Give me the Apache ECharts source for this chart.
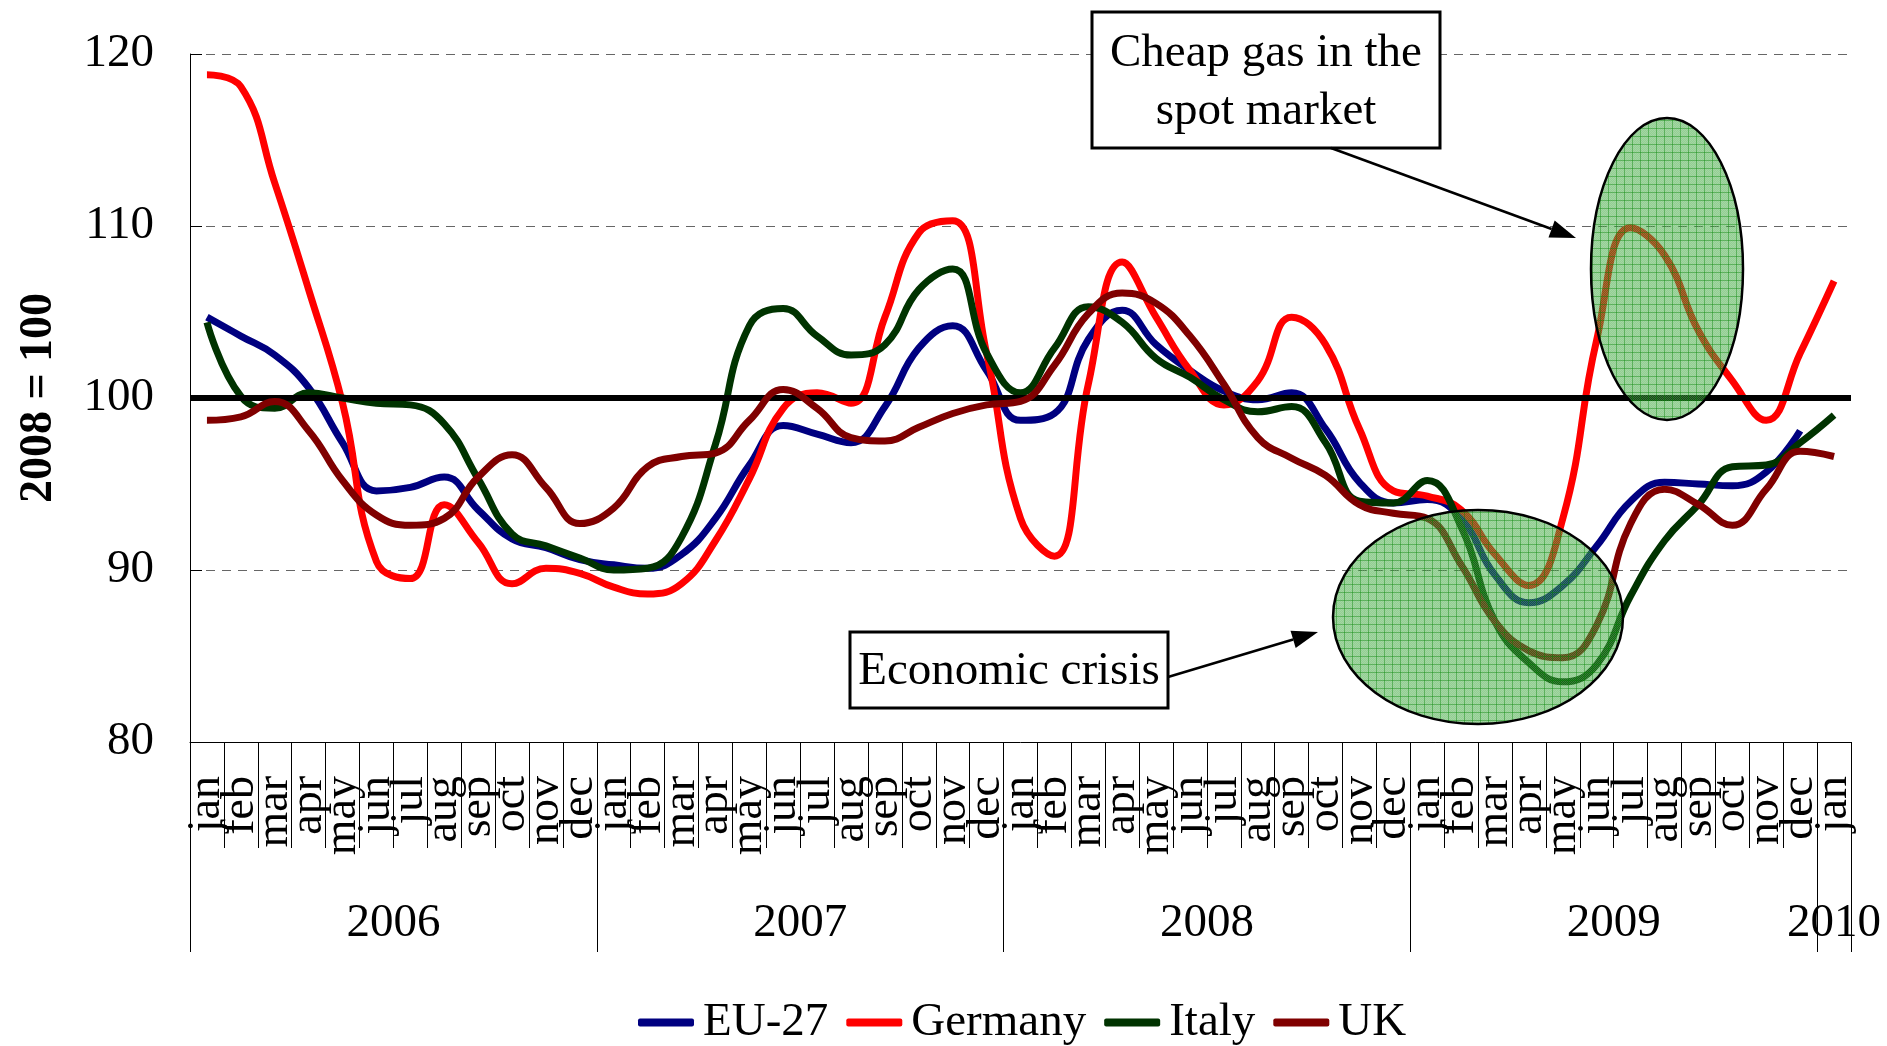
<!DOCTYPE html>
<html>
<head>
<meta charset="utf-8">
<script src="https://cdn.jsdelivr.net/npm/echarts@6/dist/echarts.min.js"></script>
<style>
html,body{margin:0;padding:0;background:#fff;}
#chart{width:1887px;height:1046px;}
</style>
</head>
<body>
<div id="chart"></div>
<script>
// ---- data ----
var monthNames = ['jan','feb','mar','apr','may','jun','jul','aug','sep','oct','nov','dec'];
var years = ['2006','2007','2008','2009','2010'];
var monthsPerYear = [12, 12, 12, 12, 1];

var eu27 = [104.7,103.6,102.5,100.6,97.4,94.6,94.8,95.4,93.5,91.8,91.3,90.6,
            90.3,90.1,90.9,93.0,96.1,98.4,97.9,97.4,99.5,102.9,104.2,101.6,
            98.7,99.1,103.4,105.1,103.1,101.6,100.4,99.9,100.3,98.2,95.1,93.9,
            94.1,93.0,89.7,88.1,89.1,91.4,94.0,95.1,95.0,94.9,95.7,98.1,
            null];
var germany = [118.8,118.1,112.5,106.3,99.7,90.5,89.5,93.8,91.6,89.2,90.1,89.8,
               89.0,88.6,89.2,91.7,95.3,99.4,100.3,99.7,104.7,109.6,110.3,102.6,
               93.0,90.8,100.8,107.9,104.7,101.6,99.6,101.0,104.7,103.1,98.2,94.6,
               94.3,93.5,90.9,89.1,93.0,103.4,109.9,108.3,103.9,101.0,98.7,102.6,
               106.8];
var italy = [104.4,100.1,99.4,100.3,100.0,99.7,99.6,98.5,95.3,92.1,91.4,90.7,
             90.0,90.1,91.9,97.3,104.2,105.2,103.6,102.5,103.1,106.3,107.5,102.6,
             100.3,102.9,105.3,104.4,102.3,101.2,99.9,99.2,99.5,97.4,94.0,93.9,
             95.2,92.5,87.0,84.6,83.5,84.5,88.5,91.7,93.8,96.0,96.1,97.4,
             99.0];
var uk = [98.7,98.9,99.8,98.1,95.2,93.2,92.6,93.0,95.4,96.7,94.8,92.7,
          93.6,96.0,96.6,96.8,98.7,100.5,99.4,97.7,97.5,98.3,99.1,99.6,
          99.8,101.9,104.9,106.1,105.5,103.6,100.8,97.7,96.5,95.5,93.8,93.3,
          93.0,90.3,87.0,85.3,84.9,86.8,92.7,94.7,93.8,92.6,94.7,96.9,
          96.6];
var seriesNames = ['EU-27','Germany','Italy','UK'];
var seriesColors = ['#000080','#FF0000','#003300','#800000'];
var baseline = 100;
var yTicks = [80, 90, 100, 110, 120];
var noteCheapGas = ['Cheap gas in the', 'spot market'];
var noteCrisis = 'Economic crisis';

// ---- build categories ----
var categories = [];
years.forEach(function (y, yi) {
  for (var m = 0; m < monthsPerYear[yi]; m++) categories.push(monthNames[m]);
});
var yearBounds = [0];
monthsPerYear.forEach(function (n) { yearBounds.push(yearBounds[yearBounds.length - 1] + n); });
var yearCenters = years.map(function (y, i) { return (yearBounds[i] + yearBounds[i + 1]) / 2; });

var FONT = '"Liberation Serif", "Times New Roman", serif';

// hatched pattern for ellipses
function makePattern() {
  var c = document.createElement('canvas');
  c.width = 8; c.height = 8;
  var g = c.getContext('2d');
  g.fillStyle = 'rgba(40,160,40,0.50)';
  g.fillRect(0, 0, 8, 8);
  g.fillStyle = 'rgba(255,255,255,0.15)';
  for (var yy = 0; yy < 8; yy++) for (var xx = (yy % 2); xx < 8; xx += 2) g.fillRect(xx, yy, 1, 1);
  g.fillStyle = 'rgba(0,130,0,0.40)';
  g.fillRect(0, 0, 8, 1);
  g.fillRect(0, 0, 1, 8);
  return c;
}
var pat = makePattern();

function arrow(x1, y1, x2, y2) {
  var ang = Math.atan2(y2 - y1, x2 - x1);
  var L = 26, W = 9;
  var bx = x2 - L * Math.cos(ang), by = y2 - L * Math.sin(ang);
  var px = -Math.sin(ang) * W, py = Math.cos(ang) * W;
  return [
    { type: 'line', z: 110, shape: { x1: x1, y1: y1, x2: bx, y2: by }, style: { stroke: '#000', lineWidth: 2.5 } },
    { type: 'polygon', z: 110, shape: { points: [[x2, y2], [bx + px, by + py], [bx - px, by - py]] }, style: { fill: '#000' } }
  ];
}

function textEl(txt, x, y) {
  return { type: 'text', z: 111, style: { text: txt, x: x, y: y, font: '47px ' + FONT, fill: '#000',
    align: 'center', verticalAlign: 'middle', textAlign: 'center', textVerticalAlign: 'middle' } };
}

var graphics = [
  { type: 'ellipse', z: 100, shape: { cx: 1667, cy: 269, rx: 76, ry: 151 },
    style: { fill: { image: pat, repeat: 'repeat' }, stroke: '#000', lineWidth: 2.5 } },
  { type: 'ellipse', z: 100, shape: { cx: 1478, cy: 617, rx: 145, ry: 107 },
    style: { fill: { image: pat, repeat: 'repeat' }, stroke: '#000', lineWidth: 2.5 } },
  { type: 'rect', z: 110, shape: { x: 1092, y: 12, width: 348, height: 136 },
    style: { fill: '#fff', stroke: '#000', lineWidth: 3 } },
  textEl(noteCheapGas[0], 1266, 54),
  textEl(noteCheapGas[1], 1266, 112),
  { type: 'rect', z: 110, shape: { x: 850, y: 632, width: 318, height: 76 },
    style: { fill: '#fff', stroke: '#000', lineWidth: 3 } },
  textEl(noteCrisis, 1009, 672)
].concat(arrow(1331, 148, 1576, 238)).concat(arrow(1168, 677, 1318, 632));

var dataSets = [eu27, germany, italy, uk];
var series = dataSets.map(function (d, i) {
  var s = {
    name: seriesNames[i], type: 'line', data: d, smooth: 0.45, showSymbol: false, symbol: 'none',
    lineStyle: { color: seriesColors[i], width: 7 }, itemStyle: { color: seriesColors[i] },
    z: 2 + i
  };
  if (i === 3) {
    s.markLine = {
      silent: true, symbol: ['none', 'none'], label: { show: false }, animation: false,
      lineStyle: { color: '#000', width: 6, type: 'solid' },
      data: [{ yAxis: baseline }]
    };
  }
  return s;
});

var chart = echarts.init(document.getElementById('chart'));
chart.setOption({
  animation: false,
  backgroundColor: '#fff',
  textStyle: { fontFamily: FONT, color: '#000' },
  grid: { left: 190, right: 36, top: 54, bottom: 304 },
  legend: {
    data: seriesNames, top: 994, left: 633,
    icon: 'roundRect', itemWidth: 56, itemHeight: 8, itemGap: 18,
    textStyle: { fontFamily: FONT, fontSize: 47, color: '#000', padding: [0, 0, 0, 4] }
  },
  xAxis: [
    {
      type: 'category', data: categories, boundaryGap: true, position: 'bottom',
      axisLine: { show: true, lineStyle: { color: '#000', width: 1 } },
      axisTick: { show: true, interval: 0, length: 106, lineStyle: { color: '#000', width: 1 } },
      axisLabel: { interval: 0, rotate: 90, margin: 34, fontSize: 46, fontFamily: FONT, color: '#000' },
      splitLine: { show: false }
    },
    {
      type: 'value', min: 0, max: categories.length, position: 'bottom', gridIndex: 0,
      axisLine: { show: false },
      axisTick: { show: true, length: 210, customValues: yearBounds.concat([categories.length]), lineStyle: { color: '#000', width: 1 } },
      axisLabel: {
        show: true, customValues: yearCenters, margin: 182, verticalAlign: 'middle',
        fontSize: 47, fontFamily: FONT, color: '#000',
        formatter: function (v) {
          for (var i = 0; i < yearCenters.length; i++) if (Math.abs(yearCenters[i] - v) < 1e-6) return years[i];
          return '';
        }
      },
      splitLine: { show: false }
    }
  ],
  yAxis: {
    type: 'value', min: yTicks[0], max: yTicks[yTicks.length - 1], interval: 10,
    name: '2008 = 100', nameLocation: 'middle', nameGap: 128,
    nameTextStyle: { fontFamily: FONT, fontSize: 46, fontWeight: 'bold', color: '#000' },
    axisLine: { show: true, lineStyle: { color: '#000', width: 1 } },
    axisTick: { show: true, inside: true, length: 12, lineStyle: { color: '#000' } },
    axisLabel: { margin: 36, fontSize: 47, fontFamily: FONT, color: '#000' },
    splitLine: { show: true, lineStyle: { color: '#666', width: 1, type: [9, 7] } }
  },
  series: series,
  graphic: graphics
});
</script>
</body>
</html>
